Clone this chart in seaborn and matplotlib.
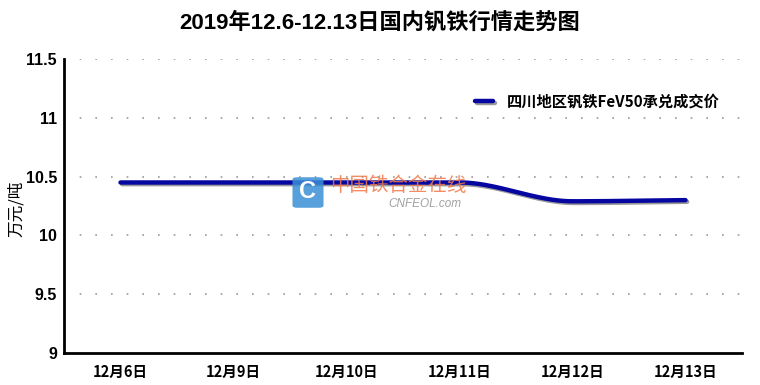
import numpy as np
import matplotlib
matplotlib.use("Agg")
import matplotlib.pyplot as plt
import matplotlib.patheffects as pe
from matplotlib.patches import FancyBboxPatch
import seaborn as sns

dates = ["12月6日", "12月9日", "12月10日", "12月11日", "12月12日", "12月13日"]
prices = [10.45, 10.45, 10.45, 10.45, 10.29, 10.30]
series_name = "四川地区钒铁FeV50承兑成交价"
title = "2019年12.6-12.13日国内钒铁行情走势图"


def monotone_curve(x, y, n=40):
    # Fritsch-Carlson monotone cubic, only used to draw a smooth line
    x = np.asarray(x, float)
    y = np.asarray(y, float)
    h = np.diff(x)
    d = np.diff(y) / h
    m = np.zeros_like(y)
    m[0], m[-1] = d[0], d[-1]
    for i in range(1, len(y) - 1):
        if d[i - 1] * d[i] <= 0:
            m[i] = 0
        else:
            m[i] = 2 / (1 / d[i - 1] + 1 / d[i])
    xs, ys = [], []
    for i in range(len(x) - 1):
        t = np.linspace(0, 1, n, endpoint=(i == len(x) - 2))
        h00 = 2 * t**3 - 3 * t**2 + 1
        h10 = t**3 - 2 * t**2 + t
        h01 = -2 * t**3 + 3 * t**2
        h11 = t**3 - t**2
        xs.append(x[i] + t * h[i])
        ys.append(h00 * y[i] + h10 * h[i] * m[i] + h01 * y[i + 1] + h11 * h[i] * m[i + 1])
    return np.concatenate(xs), np.concatenate(ys)


sns.set_style("white")
plt.rcParams["font.family"] = ["Liberation Sans", "Noto Sans CJK SC", "DejaVu Sans"]
plt.rcParams.update({"text.color": "black", "axes.labelcolor": "black",
                     "xtick.color": "black", "ytick.color": "black"})

fig = plt.figure(figsize=(7.6, 3.85), dpi=100)
ax = fig.add_axes([64 / 760, 1 - 353 / 385, (742 - 64) / 760, (353 - 59) / 385])

pos = np.arange(len(dates))
sx, sy = monotone_curve(pos, prices)
sns.lineplot(x=sx, y=sy, ax=ax, color="#0606a0", linewidth=3.2, label=series_name,
             path_effects=[pe.SimpleLineShadow(offset=(1.2, -1.2), shadow_color="#555555", alpha=0.6),
                           pe.Normal()])

ax.set_xlim(-0.5, len(dates) - 0.5)
ax.set_ylim(9, 11.5)
yt = np.arange(9, 11.51, 0.5)
ax.set_yticks(yt)
ax.set_yticklabels([f"{v:g}" for v in yt], fontsize=11.5, fontweight="bold",
                   family=["Liberation Sans"])
ax.set_xticks(np.arange(-0.5, len(dates)), minor=False)
ax.set_xticklabels([])
ax.set_xticks(pos, minor=True)
ax.set_xticklabels(dates, minor=True, fontsize=10.5, fontweight="bold",
                   family=["Noto Sans CJK SC", "Liberation Sans"])
ax.tick_params(axis="x", which="major", direction="inout", length=7, width=1.5, color="black")
ax.tick_params(axis="x", which="minor", length=0, pad=8)
ax.tick_params(axis="y", direction="out", length=3, width=1.5, color="black", pad=2)

for v in yt[1:]:
    ax.axhline(v, color="#999999", linestyle=(0, (1, 8.4)), linewidth=1.2, zorder=0)

for side in ["top", "right"]:
    ax.spines[side].set_visible(False)
for side in ["left", "bottom"]:
    ax.spines[side].set_color("black")
    ax.spines[side].set_linewidth(2)

ax.set_ylabel("万元/吨", fontsize=12, family=["Noto Sans CJK SC"])
ax.yaxis.set_label_coords(-0.058, 0.49)

leg = ax.legend(loc="upper right", bbox_to_anchor=(0.988, 0.93), frameon=False, handlelength=1.2,
                handletextpad=0.9, prop={"family": ["Noto Sans CJK SC"], "size": 11, "weight": "bold"})

fig.text(0.5, 0.94, title, ha="center", va="center", fontsize=16, fontweight="bold",
         family=["Liberation Sans", "Noto Sans CJK SC"])

# watermark
box = FancyBboxPatch((294 / 760, 1 - 207 / 385), 28 / 760, 29 / 385,
                     boxstyle="round,pad=0.002,rounding_size=0.006", transform=fig.transFigure,
                     facecolor="#3a8fd6", edgecolor="none", alpha=0.85, zorder=5)
fig.patches.append(box)
fig.text(308 / 760, 1 - 192 / 385, "C", ha="center", va="center", color="white", fontsize=17,
         fontweight="bold", family=["Liberation Sans"], zorder=6)
fig.text(330 / 760, 1 - 186 / 385, "中国铁合金在线", ha="left", va="center", color="#f0784a",
         fontsize=14, alpha=0.85, family=["Noto Sans CJK SC"], zorder=6)
fig.text(388 / 760, 1 - 204 / 385, "CNFEOL.com", ha="left", va="center", color="#a0a0a0",
         fontsize=8.5, style="italic", family=["Liberation Sans"], zorder=6)

fig.savefig("out.png", dpi=100)
